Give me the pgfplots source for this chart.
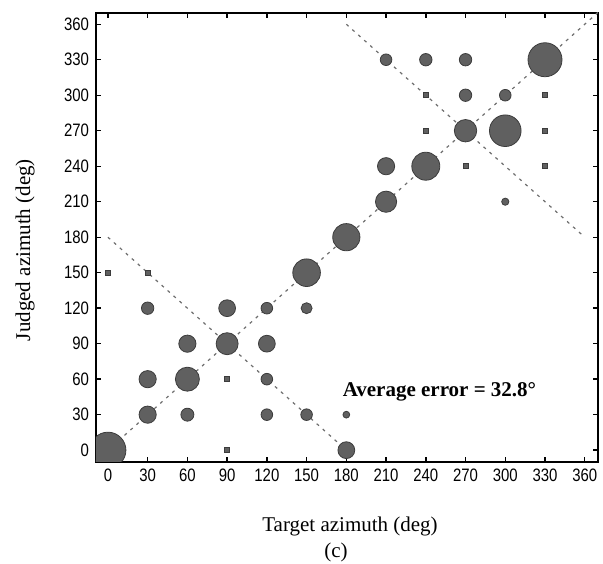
\documentclass[border=0pt]{standalone}
\usepackage{fontspec}
\setmainfont{Liberation Serif}
\newfontfamily\tickfont[FakeStretch=0.83]{Liberation Sans}
\usepackage{pgfplots}
\pgfplotsset{compat=1.18}
\definecolor{bubfill}{RGB}{96,96,96}
\definecolor{bubdraw}{RGB}{60,60,60}
\definecolor{dashgray}{RGB}{110,110,110}
\begin{document}
\begin{tikzpicture}
\begin{axis}[
  name=ax,
  scale only axis,
  width=251pt, height=224.5pt,
  xmin=-9, xmax=370, ymin=-10, ymax=369.5,
  enlargelimits=false,
  clip marker paths=true,
  xtick={0,30,...,360}, ytick={0,30,...,360},
  tick pos=both,
  xticklabel pos=lower, yticklabel pos=left,
  tick align=inside,
  major tick length=2.5pt,
  every tick/.style={black, line width=0.7pt},
  axis line style={black, line width=0.9pt},
  /pgf/number format/assume math mode=true,
  tick label style={font=\fontsize{9}{10}\selectfont\tickfont},
  xlabel={Target azimuth (deg)},
  ylabel={Judged azimuth (deg)},
  x label style={at={(axis description cs:0.506,-0.1559)}, anchor=base, font=\fontsize{10.5}{12}\selectfont},
  y label style={at={(axis description cs:-0.1414,0.472)}, anchor=center, rotate=0, font=\fontsize{10.5}{12}\selectfont},
]
% reference lines
\addplot[dashgray, line width=0.6pt, dash pattern=on 1.5pt off 2.5pt] coordinates {(-10,-10) (372,372)};
\addplot[dashgray, line width=0.6pt, dash pattern=on 1.5pt off 2.5pt] coordinates {(0,180) (180,0)};
\addplot[dashgray, line width=0.6pt, dash pattern=on 1.5pt off 2.5pt] coordinates {(180,360) (359,181)};
% bubbles
\addplot[scatter, only marks, mark=*,
  scatter/use mapped color={draw=bubdraw, fill=bubfill},
  line width=0.4pt,
  visualization depends on={\thisrow{r} \as \rad},
  scatter/@pre marker code/.append style={/tikz/mark size=\rad pt}]
  table[x=x, y=y] {
x y r
0 0 9
30 30 4.3
30 60 4.3
30 120 3.1
60 30 3.25
60 60 6
60 90 4.3
90 90 5.5
90 120 4.2
120 30 2.9
120 60 2.9
120 90 4.2
120 120 2.9
150 30 2.9
150 120 2.75
150 150 6.9
180 0 4.2
180 30 1.7
180 180 6.8
210 210 5.3
210 240 4.3
210 330 2.9
240 240 7
240 330 3.1
270 270 5.6
270 300 3.1
270 330 3.1
300 210 1.8
300 270 7.9
300 300 2.9
330 330 8.5
};
% small squares
\addplot[only marks, mark=square*, mark size=1.25pt, line width=0.4pt,
  mark options={draw=bubdraw, fill=bubfill}] coordinates {
(0,150) (30,150) (90,0) (90,60) (240,270) (240,300) (270,240) (330,240) (330,270) (330,300)
};
\node[anchor=base west, font=\fontsize{10.5}{12}\selectfont\bfseries] at (axis cs:172,45) {Average error = 32.8°};
\end{axis}
\node[anchor=base, font=\fontsize{10.5}{12}\selectfont] at ([xshift=120pt,yshift=-48pt]ax.south west) {(c)};
\pgfresetboundingbox
\path[use as bounding box] ([xshift=-48pt,yshift=-51pt]ax.south west) rectangle ([xshift=2.5pt,yshift=6.5pt]ax.north east);
\end{tikzpicture}
\end{document}
